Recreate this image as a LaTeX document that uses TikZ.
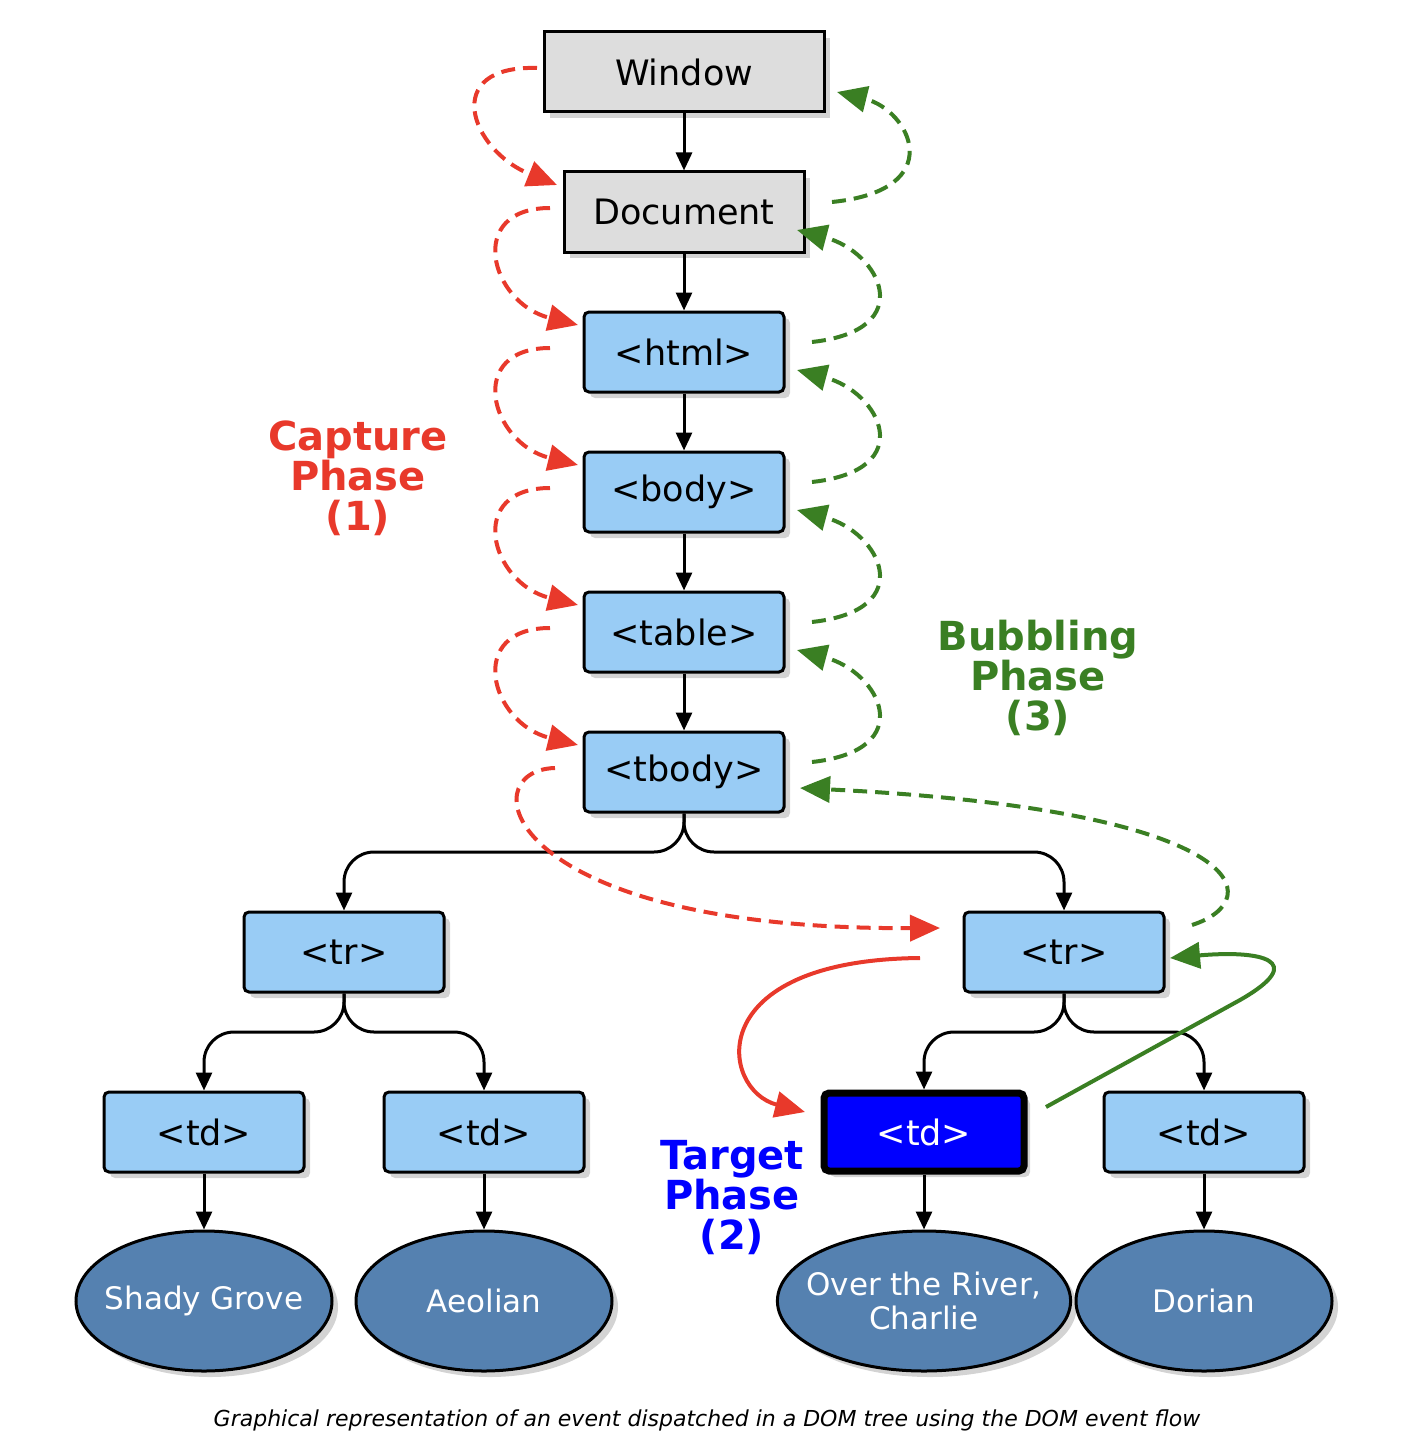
\documentclass[tikz,border=0pt]{standalone}
\usepackage{fontspec}
\setmainfont{DejaVu Sans}
\usetikzlibrary{shadows,arrows.meta,shapes.geometric}
\definecolor{cred}{HTML}{E8392B}
\definecolor{cgreen}{HTML}{3A7F23}
\definecolor{cblue}{HTML}{99CCF5}
\definecolor{cdark}{HTML}{5581B0}
\definecolor{cgray}{HTML}{DDDDDD}
\begin{document}
\begin{tikzpicture}[x=1pt,y=-1pt,
  box/.style={draw=black,line width=3pt,rounded corners=5pt,fill=cblue,minimum width=200pt,minimum height=80pt,
    font=\fontsize{35}{40}\selectfont,drop shadow={shadow xshift=6pt,shadow yshift=-6pt,opacity=.35}},
  gbox/.style={box,rounded corners=0pt,fill=cgray},
  leaf/.style={draw=black,line width=3pt,ellipse,fill=cdark,text=white,minimum width=256pt,minimum height=140pt,inner sep=-14pt,
    font=\fontsize{31}{34}\selectfont,align=center,drop shadow={shadow xshift=6pt,shadow yshift=-6pt,opacity=.35}},
  tree/.style={line width=3pt,-{Triangle[length=18pt,width=16pt]}},
  capt/.style={cred,line width=4pt,dash pattern=on 14pt off 8pt,-{Triangle[length=30pt,width=26pt]}},
  bubb/.style={cgreen,line width=4pt,dash pattern=on 14pt off 8pt,-{Triangle[length=30pt,width=26pt]}},
  lbl/.style={font=\bfseries\fontsize{40}{40}\selectfont,align=center}]
\useasboundingbox (0,0) rectangle (1402,1450);
\node[gbox,minimum width=280pt] (win) at (684,72) {Window};
\node[gbox,minimum width=240pt] (doc) at (684,212) {Document};
\node[box] (html) at (684,352) {<html>};
\node[box] (body) at (684,492) {<body>};
\node[box] (table) at (684,632) {<table>};
\node[box] (tbody) at (684,772) {<tbody>};
\node[box] (trL) at (344,952) {<tr>};
\node[box] (trR) at (1064,952) {<tr>};
\node[box] (td1) at (204,1132) {<td>};
\node[box] (td2) at (484,1132) {<td>};
\node[box,fill=blue,text=white,line width=7pt,minimum width=200pt,minimum height=78pt] (td3) at (924,1132) {<td>};
\node[box] (td4) at (1204,1132) {<td>};
\node[leaf] (e1) at (204,1301) {Shady Grove};
\node[leaf] (e2) at (484,1301) {Aeolian};
\node[leaf] (e3) at (924,1301) {Over the River,\\Charlie};
\node[leaf] (e4) at (1204,1301) {Dorian};
% tree
\foreach \a/\b in {win/doc,doc/html,html/body,body/table,table/tbody,td1/e1,td2/e2,td3/e3,td4/e4}
  \draw[tree] (\a) -- (\b);
\foreach \a/\b/\y in {tbody/trL/852,tbody/trR/852,trL/td1/1032,trL/td2/1032,trR/td3/1032,trR/td4/1032}
  \draw[tree,rounded corners=30pt] (\a.south) |- (\b.north |- 0,\y) -- (\b.north);
% capture
\coordinate (c0) at (537,68); \coordinate (c0e) at (557,185);
\draw[capt] (c0) .. controls (440,65) and (470,150) .. (c0e);
\foreach \ya in {208,348,488,628}{
  \draw[capt] (550,\ya) .. controls (465,\ya) and (490,\ya+95) .. (578,\ya+117);
}
\coordinate (c5) at (555,768); \coordinate (c5e) at (940,928);
\draw[capt] (c5) .. controls (470,770) and (500,930) .. (c5e);
\coordinate (c6) at (920,958); \coordinate (c6e) at (805,1112);
\draw[cred,line width=4pt,-{Triangle[length=30pt,width=26pt]}] (c6) .. controls (700,960) and (720,1090) .. (c6e);
% bubbling
\coordinate (b0) at (832,202); \coordinate (b0e) at (837,92);
\draw[bubb] (b0) .. controls (950,190) and (910,110) .. (b0e);
\foreach \ya in {342,482,622,762}{
  \draw[bubb] (812,\ya) .. controls (920,\ya-12) and (880,\ya-90) .. (797,\ya-112);
}
\coordinate (b5) at (1192,925); \coordinate (b5e) at (800,788);
\draw[bubb] (b5) .. controls (1270,900) and (1250,810) .. (b5e);
\coordinate (b6) at (1046,1107); \coordinate (b6e) at (1170,958);
\draw[cgreen,line width=4pt,-{Triangle[length=30pt,width=26pt]}] (b6) -- (1240,1000) .. controls (1310,960) and (1260,950) .. (b6e);
% labels
\node[lbl,text=cred] (lc) at (358,478) {Capture\\Phase\\(1)};
\node[lbl,text=cgreen] (lb) at (1038,678) {Bubbling\\Phase\\(3)};
\node[lbl,text=blue] (lt) at (732,1198) {Target\\Phase\\(2)};
\node[font=\itshape\fontsize{22}{26}\selectfont] (capn) at (707,1420) {Graphical representation of an event dispatched in a DOM tree using the DOM event flow};
\end{tikzpicture}
\end{document}
